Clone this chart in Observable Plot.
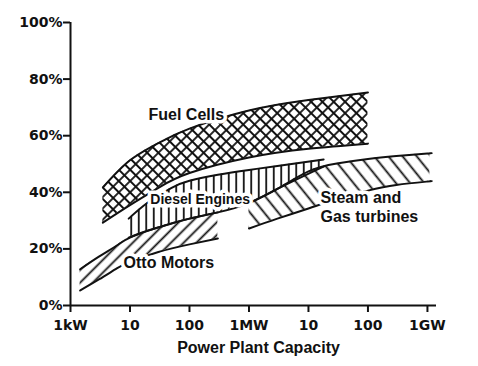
<!DOCTYPE html>
<html>
<head>
<meta charset="utf-8">
<script src="https://cdn.jsdelivr.net/npm/d3@7"></script>
<script src="https://cdn.jsdelivr.net/npm/@observablehq/plot@0.6"></script>
<style>
  html, body { margin: 0; padding: 0; background: #fff; }
  #chart { width: 478px; height: 366px; }
</style>
</head>
<body>
<div id="chart"></div>
<script>
// Capacity in kW (log scale), efficiency in %
const fuelX    = [3.5, 10, 30, 100, 1000, 10000, 100000];
const fuelHigh = [41.7, 51.3, 57.4, 62.5, 68.9, 72.6, 75.3];
const fuelLow  = [29.3, 35.5, 41.6, 46.8, 52.3, 55.4, 57.2];

const dieselX    = [9.5, 20, 50, 100, 300, 1000, 3000, 18000];
const dieselHigh = [30.7, 36.4, 41.6, 44.1, 46.2, 47.9, 49.3, 51.6];
const dieselLow  = [24.0, 26.5, 29.0, 30.7, 32.9, 36.2, 41.2, 49.1];

const steamX    = [1000, 3000, 10000, 30000, 100000, 300000, 1000000, 1100000];
const steamHigh = [36.2, 41.2, 47.4, 50.2, 51.8, 52.8, 53.7, 53.8];
const steamLow  = [27.2, 30.7, 34.3, 37.6, 40.6, 42.6, 43.8, 43.9];

const ottoX    = [1.45, 3, 6, 10, 30, 100, 300];
const ottoHigh = [12.8, 17.3, 21.2, 24.0, 27.6, 30.7, 32.9];
const ottoLow  = [5.3, 9.2, 13.1, 15.4, 18.9, 21.6, 23.7];

const yTicks = [0, 20, 40, 60, 80, 100];
const xTicks = [1, 10, 100, 1000, 10000, 100000, 1000000];
const xTickLabels = ["1kW", "10", "100", "1MW", "10", "100", "1GW"];

const bandLabels = [
  {text: "Fuel Cells", x: 20.5, y: 67.6, size: 16},
  {text: "Diesel Engines", x: 22, y: 37.8, size: 14},
  {text: "Otto Motors", x: 7.8, y: 15.5, size: 16},
  {text: "Steam and\nGas turbines", x: 15900, y: 35.0, size: 16}
];
const xTitle = "Power Plant Capacity";

const rows = (xs, lo, hi) => xs.map((x, i) => ({x, lo: lo[i], hi: hi[i]}));
const fuel = rows(fuelX, fuelLow, fuelHigh);
const diesel = rows(dieselX, dieselLow, dieselHigh);
const steam = rows(steamX, steamLow, steamHigh);
const otto = rows(ottoX, ottoLow, ottoHigh);

const curve = "natural";
const band = (data, pattern) => [
  Plot.areaY(data, {x: "x", y1: "lo", y2: "hi", fill: `url(#${pattern})`, curve}),
  Plot.lineY(data, {x: "x", y: "hi", stroke: "#111", strokeWidth: 2, curve}),
  Plot.lineY(data, {x: "x", y: "lo", stroke: "#111", strokeWidth: 2, curve})
];

const xLabelOf = d => xTickLabels[xTicks.indexOf(d)];

const svg = Plot.plot({
  width: 478,
  height: 366,
  marginTop: 22,
  marginLeft: 70,
  marginRight: 42,
  marginBottom: 61,
  style: {fontFamily: "DejaVu Sans", background: "#fff", color: "#111"},
  x: {type: "log", domain: [1, 1.42e6]},
  y: {domain: [0, 100]},
  marks: [
    ...band(otto, "otto"),
    ...band(diesel, "vert"),
    ...band(steam, "steam"),
    ...band(fuel, "cross"),
    Plot.ruleY([0], {stroke: "#111", strokeWidth: 2}),
    Plot.ruleX([1], {y1: 0, y2: 100, stroke: "#111", strokeWidth: 2}),
    Plot.axisY({ticks: yTicks, tickFormat: d => d + "%", tickSize: 7, tickPadding: 1,
      strokeWidth: 2, fontSize: 14, fontWeight: "bold", label: null}),
    Plot.axisX({ticks: xTicks, tickFormat: xLabelOf, tickSize: 7, tickPadding: 8,
      strokeWidth: 2, fontSize: 14, fontWeight: "bold", label: null}),
    Plot.text(bandLabels, {x: "x", y: "y", text: "text", textAnchor: "start",
      fontSize: "size", fontWeight: "bold", fontFamily: "Liberation Sans",
      fill: "#111", stroke: "#fff", strokeWidth: 7, lineHeight: 1.2}),
    Plot.text([xTitle], {frameAnchor: "bottom", dx: 5, dy: 47, fontSize: 16,
      fontWeight: "bold", fontFamily: "Liberation Sans", fill: "#111"})
  ]
});

const defs = d3.select(svg).insert("defs", ":first-child");
function pat(id, size, angle, d, sw) {
  const p = defs.append("pattern").attr("id", id)
    .attr("patternUnits", "userSpaceOnUse")
    .attr("width", size).attr("height", size)
    .attr("patternTransform", `rotate(${angle})`);
  p.append("path").attr("d", d).attr("stroke", "#111").attr("stroke-width", sw).attr("fill", "none");
}
pat("cross", 8, 45, "M0,4H8M4,0V8", 1.8);
pat("vert", 7.5, 0, "M3.75,0V7.5", 1.8);
pat("steam", 11, -39, "M5.5,0V11", 1.8);
pat("otto", 9, 45, "M4.5,0V9", 1.8);

document.getElementById("chart").appendChild(svg);
</script>
</body>
</html>
